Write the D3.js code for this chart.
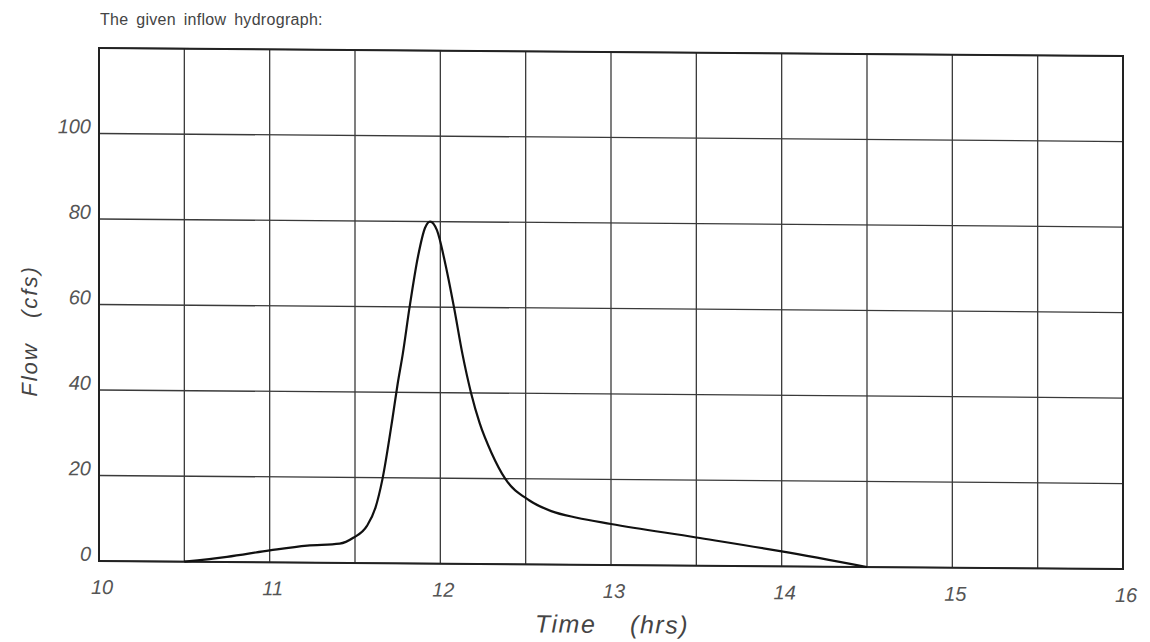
<!DOCTYPE html>
<html>
<head>
<meta charset="utf-8">
<script src="https://cdn.jsdelivr.net/npm/d3@7"></script>
<style>
  html, body { margin: 0; padding: 0; background: #fff; }
  svg { display: block; }
</style>
</head>
<body>
<svg id="chart" width="1150" height="642"></svg>
<script>
// ---- data ----
const timeHrs = [10.5, 10.75, 11.0, 11.22, 11.41, 11.49, 11.57, 11.62, 11.66, 11.72, 11.75, 11.78, 11.82, 11.87, 11.91, 11.94, 11.98, 12.03, 12.08, 12.13, 12.18, 12.23, 12.3, 12.38, 12.52, 12.65, 12.8, 13.0, 13.5, 14.0, 14.5];
const flowCfs = [0, 1.2, 2.8, 4.0, 4.5, 5.9, 8.7, 13, 19.5, 34, 42, 49, 60, 72, 78.5, 80, 78, 70, 60, 49, 40, 33, 26, 20, 15, 12.5, 11, 9.6, 6.6, 3.5, 0];
const xTickLabels = [10, 11, 12, 13, 14, 15, 16];
const yTickLabels = [0, 20, 40, 60, 80, 100];
const xGrid = [10, 10.5, 11, 11.5, 12, 12.5, 13, 13.5, 14, 14.5, 15, 15.5, 16];
const yGrid = [0, 20, 40, 60, 80, 100, 120];
const titleText = "The given inflow hydrograph:";

// ---- layout ----
const svg = d3.select("#chart");
const plotLeft = 99, plotTop = 48, plotW = 1024, plotH = 513;
const x = d3.scaleLinear().domain([10, 16]).range([0, plotW]);
const y = d3.scaleLinear().domain([0, 120]).range([plotH, 0]);

svg.append("text")
  .attr("x", 100).attr("y", 25)
  .attr("font-family", "'Liberation Sans', Arial, sans-serif")
  .attr("font-size", 16)
  .attr("word-spacing", 3)
  .attr("letter-spacing", 0.3)
  .attr("fill", "#444")
  .text(titleText);

const g = svg.append("g")
  .attr("transform", `translate(${plotLeft},${plotTop}) skewY(0.45)`);

// grid
g.selectAll(".vg").data(xGrid).enter().append("line")
  .attr("x1", d => x(d)).attr("x2", d => x(d))
  .attr("y1", 0).attr("y2", plotH)
  .attr("stroke", "#3a3a3a").attr("stroke-width", 1.3);
g.selectAll(".hg").data(yGrid).enter().append("line")
  .attr("x1", 0).attr("x2", plotW)
  .attr("y1", d => y(d)).attr("y2", d => y(d))
  .attr("stroke", "#3a3a3a").attr("stroke-width", 1.3);

// border
g.append("rect").attr("x", 0).attr("y", 0).attr("width", plotW).attr("height", plotH)
  .attr("fill", "none").attr("stroke", "#222").attr("stroke-width", 2);

// curve
const pts = timeHrs.map((t, i) => [t, flowCfs[i]]);
g.append("path").datum(pts)
  .attr("fill", "none").attr("stroke", "#111").attr("stroke-width", 2.2)
  .attr("d", d3.line().x(d => x(d[0])).y(d => y(d[1])).curve(d3.curveMonotoneX));

const tickFont = "'Liberation Sans', Arial, sans-serif";
// y tick labels
g.selectAll(".yl").data(yTickLabels).enter().append("text")
  .attr("x", -8).attr("y", d => y(d))
  .attr("text-anchor", "end")
  .attr("font-family", tickFont).attr("font-style", "italic")
  .attr("font-size", 20).attr("fill", "#555")
  .text(d => d);
// x tick labels
g.selectAll(".xl").data(xTickLabels).enter().append("text")
  .attr("x", d => x(d) + 3).attr("y", plotH + 33)
  .attr("text-anchor", "middle")
  .attr("font-family", tickFont).attr("font-style", "italic")
  .attr("font-size", 20).attr("fill", "#555")
  .text(d => d);

// axis titles
g.append("text")
  .attr("x", plotW / 2 + 1).attr("y", plotH + 68)
  .attr("text-anchor", "middle")
  .attr("font-family", tickFont).attr("font-style", "italic")
  .attr("font-size", 25).attr("letter-spacing", 1.5).attr("fill", "#444")
  .attr("xml:space", "preserve")
  .text("Time    (hrs)");
g.append("text")
  .attr("transform", `translate(-62,${plotH / 2 + 27}) rotate(-90)`)
  .attr("text-anchor", "middle")
  .attr("font-family", tickFont).attr("font-style", "italic")
  .attr("font-size", 22).attr("letter-spacing", 2).attr("fill", "#444")
  .attr("xml:space", "preserve")
  .text("Flow   (cfs)");
</script>
</body>
</html>
